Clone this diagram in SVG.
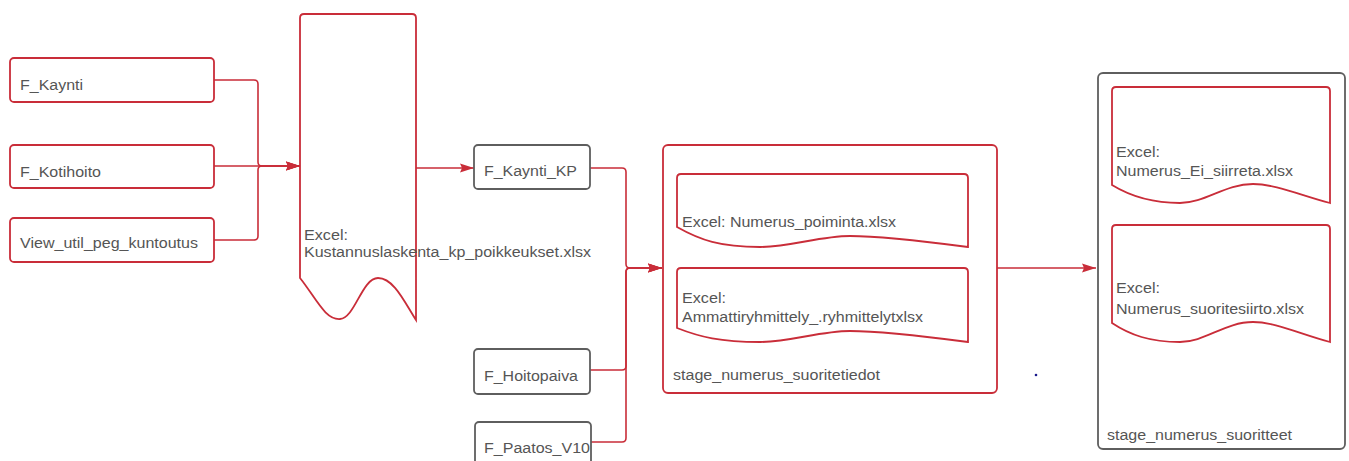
<svg xmlns="http://www.w3.org/2000/svg" width="1349" height="461" viewBox="0 0 1349 461">
<style>
.red{fill:#fff;stroke:#c92d39;stroke-width:1.8}
.gray{fill:#fff;stroke:#5e5e5e;stroke-width:1.8}
.t{font-family:"Liberation Sans",Arial,sans-serif;font-size:14px;fill:#555}
.c{fill:none;stroke:#c92d39;stroke-width:1.6}
</style>
<defs>
<marker id="arr" markerWidth="15" markerHeight="10" refX="14" refY="5" orient="auto" markerUnits="userSpaceOnUse">
<path d="M0,0.5 L14,5 L0,9.5 L2,5 z" fill="#c92d39"/>
</marker>
</defs>
<rect width="1349" height="461" fill="#fff"/>
<g id="connectors">
<path class="c" d="M214,80 H254 Q258,80 258,84 V162 Q258,166 262,166 H300" marker-end="url(#arr)"/>
<path class="c" d="M214,166 H300" marker-end="url(#arr)"/>
<path class="c" d="M214,240 H254 Q258,240 258,236 V170 Q258,166 262,166 H300" marker-end="url(#arr)"/>
<path class="c" d="M416,168 H474" marker-end="url(#arr)"/>
<path class="c" d="M590,168 H622 Q626,168 626,172 V264 Q626,268 630,268 H662" marker-end="url(#arr)"/>
<path class="c" d="M590,370 H622 Q626,370 626,366 V272 Q626,268 630,268 H662" marker-end="url(#arr)"/>
<path class="c" d="M591,442 H622 Q626,442 626,438 V272 Q626,268 630,268 H662" marker-end="url(#arr)"/>
<path class="c" d="M997,268 H1096" marker-end="url(#arr)"/>
</g>
<g id="f_kaynti">
<rect class="red" x="10" y="58" width="204" height="44" rx="4"/>
<text class="t" x="20" y="90" textLength="63" lengthAdjust="spacingAndGlyphs">F_Kaynti</text>
</g>
<g id="f_kotihoito">
<rect class="red" x="10" y="145" width="204" height="43" rx="4"/>
<text class="t" x="20" y="177" textLength="81" lengthAdjust="spacingAndGlyphs">F_Kotihoito</text>
</g>
<g id="view_util">
<rect class="red" x="10" y="218" width="204" height="44" rx="4"/>
<text class="t" x="20" y="248" textLength="178" lengthAdjust="spacingAndGlyphs">View_util_peg_kuntoutus</text>
</g>
<g id="excel_kustannus">
<path class="red" d="M300,278 V18 Q300,14 304,14 H412 Q416,14 416,18 V320 C405,303 394,278 378,278 C362,278 355,318 340,319 C325,320 316,298 300,278 Z"/>
<text class="t" x="304" y="240" textLength="44" lengthAdjust="spacingAndGlyphs">Excel:</text>
<text class="t" x="304" y="257" textLength="287" lengthAdjust="spacingAndGlyphs">Kustannuslaskenta_kp_poikkeukset.xlsx</text>
</g>
<g id="f_kaynti_kp">
<rect class="gray" x="474" y="145" width="116" height="44" rx="4"/>
<text class="t" x="484" y="176" textLength="93" lengthAdjust="spacingAndGlyphs">F_Kaynti_KP</text>
</g>
<g id="f_hoitopaiva">
<rect class="gray" x="474" y="349" width="116" height="45" rx="4"/>
<text class="t" x="484" y="381" textLength="94" lengthAdjust="spacingAndGlyphs">F_Hoitopaiva</text>
</g>
<g id="f_paatos">
<rect class="gray" x="475" y="422" width="116" height="50" rx="4"/>
<text class="t" x="484" y="453" textLength="106" lengthAdjust="spacingAndGlyphs">F_Paatos_V10</text>
</g>
<g id="stage_suoritetiedot">
<rect class="red" x="663" y="145" width="334" height="248" rx="5"/>
<path class="red" d="M677,227 V178 Q677,174 681,174 H964 Q968,174 968,178 V247 C930,242 880,236 850,236 C820,236 790,247 760,247 C720,247 700,240 677,227 Z"/>
<text class="t" x="682" y="227" textLength="214" lengthAdjust="spacingAndGlyphs">Excel: Numerus_poiminta.xlsx</text>
<path class="red" d="M677,328 V272 Q677,268 681,268 H964 Q968,268 968,272 V342 C930,337 880,331 850,331 C820,331 790,342 760,342 C720,342 700,337 677,328 Z"/>
<text class="t" x="682" y="303" textLength="44" lengthAdjust="spacingAndGlyphs">Excel:</text>
<text class="t" x="682" y="322" textLength="241" lengthAdjust="spacingAndGlyphs">Ammattiryhmittely_.ryhmittelytxlsx</text>
<text class="t" x="673" y="380" textLength="207" lengthAdjust="spacingAndGlyphs">stage_numerus_suoritetiedot</text>
</g>
<g id="stage_suoritteet">
<rect class="gray" x="1098" y="73" width="247" height="376" rx="5"/>
<path class="red" d="M1112,185 V91 Q1112,87 1116,87 H1326 Q1330,87 1330,91 V203 C1300,195 1275,184 1253,184 C1225,184 1205,203 1180,203 C1150,203 1130,196 1112,185 Z"/>
<text class="t" x="1116" y="157" textLength="44" lengthAdjust="spacingAndGlyphs">Excel:</text>
<text class="t" x="1116" y="176" textLength="177" lengthAdjust="spacingAndGlyphs">Numerus_Ei_siirreta.xlsx</text>
<path class="red" d="M1112,323 V229 Q1112,225 1116,225 H1326 Q1330,225 1330,229 V342 C1300,334 1275,322 1253,322 C1225,322 1205,342 1180,342 C1150,342 1130,335 1112,323 Z"/>
<text class="t" x="1116" y="293" textLength="44" lengthAdjust="spacingAndGlyphs">Excel:</text>
<text class="t" x="1116" y="314" textLength="188" lengthAdjust="spacingAndGlyphs">Numerus_suoritesiirto.xlsx</text>
<text class="t" x="1107" y="440" textLength="185" lengthAdjust="spacingAndGlyphs">stage_numerus_suoritteet</text>
</g>
<circle cx="1036" cy="375" r="1.3" fill="#1a1a8c"/>
</svg>
